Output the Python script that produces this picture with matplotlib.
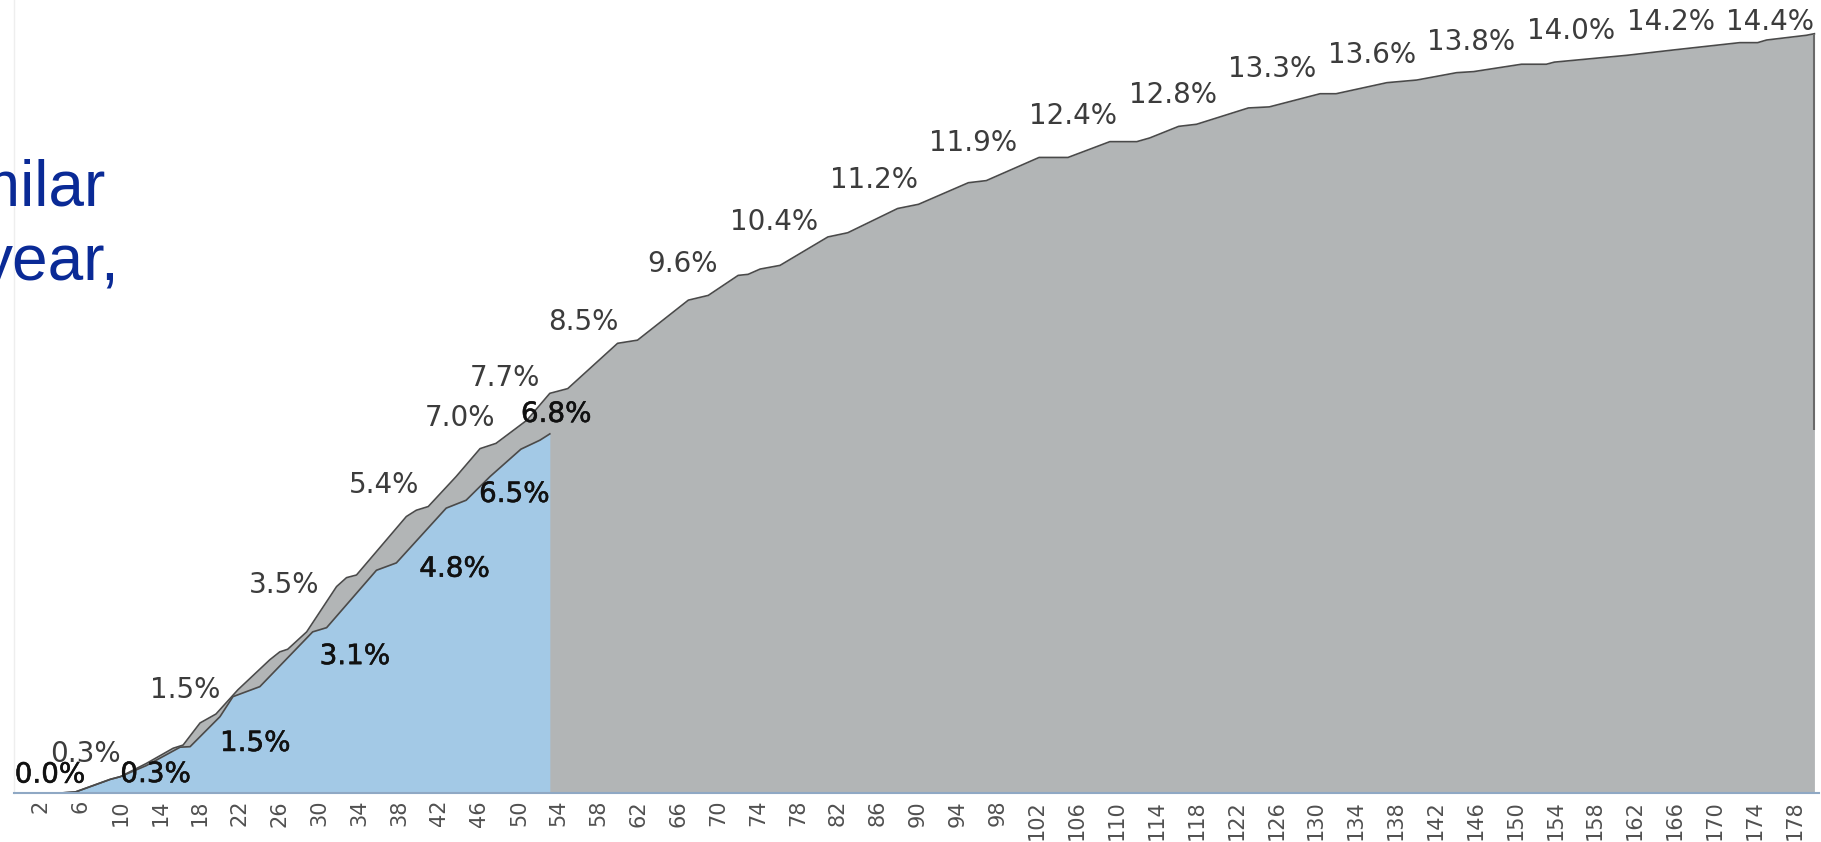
import matplotlib.pyplot as plt
import matplotlib.patheffects as pe

# прошлый год (серая область) - значения в %
gray_x = [0, 4, 5.5, 9, 10, 12.6, 15.3, 16.3, 18, 19.6, 21.8, 25, 26, 26.8, 28.7,
          31.7, 32.7, 33.7, 38.7, 39.7, 40.9, 43.7, 46.1, 47.7, 50.8, 53.1, 54.9,
          59.9, 61.9, 67, 69, 72, 73, 74.2, 76.2, 81, 83, 88, 90.1, 95.1, 96.9,
          102.2, 105.1, 109.3, 112, 113.3, 116.2, 118, 123.2, 125.3, 130.4, 132,
          137.1, 140.1, 144.1, 145.8, 150.6, 153.1, 153.9, 161.2, 165.8, 172.5,
          174.3, 175.2, 179.2, 180]
gray_y = [0, 0, 0.02, 0.26, 0.31, 0.56, 0.85, 0.91, 1.33, 1.5, 1.96, 2.53, 2.68, 2.73, 3.06,
          3.92, 4.09, 4.14, 5.25, 5.37, 5.44, 6.01, 6.54, 6.64, 7.08, 7.59, 7.68,
          8.54, 8.6, 9.36, 9.45, 9.83, 9.85, 9.95, 10.02, 10.56, 10.64, 11.1, 11.18, 11.59, 11.63,
          12.07, 12.07, 12.37, 12.37, 12.44, 12.66, 12.7, 13.01, 13.03, 13.28, 13.28,
          13.49, 13.54, 13.68, 13.7, 13.84, 13.84, 13.88, 14.01, 14.11, 14.25,
          14.25, 14.3, 14.39, 14.42]

# текущий год (голубая область)
blue_x = [0, 4, 5.5, 9, 10, 12.6, 16, 17, 20, 21.3, 24, 29.3, 30.7, 35.7, 37.7,
          42.7, 44.7, 47.1, 50.2, 52.1, 53.1]
blue_y = [0, 0, 0.02, 0.26, 0.31, 0.52, 0.87, 0.88, 1.45, 1.83, 2.02, 3.06, 3.14, 4.23, 4.37,
          5.41, 5.56, 6.01, 6.53, 6.7, 6.82]

# подписи
gray_lbl_x = [10, 20, 30, 40, 50, 54, 60, 70, 80, 90, 100, 110, 120, 130, 140, 150, 160, 170, 180]
gray_lbl = [0.3, 1.5, 3.5, 5.4, 7.0, 7.7, 8.5, 9.6, 10.4, 11.2, 11.9, 12.4, 12.8, 13.3,
            13.6, 13.8, 14.0, 14.2, 14.4]
blue_lbl_x = [0, 10, 20, 30, 40, 50, 53]
blue_lbl = [0.0, 0.3, 1.5, 3.1, 4.8, 6.5, 6.8]

ticks = list(range(2, 179, 4))

# смещения подписей (раскладка)
gray_dx = [0, 0, 0, 0, -2.4, -1.9, 0, 0, 0, 0, 0, 0, 0, 0, 0, 0, 0, 0, 0]
gray_dy = [0.45, 0.45, 0.45, 0.45, 0.12, 0.19, 0.45, 0.45, 0.45, 0.45, 0.45, 0.45, 0.45,
           0.45, 0.42, 0.47, 0.48, 0.44, 0.24]
blue_dx = [-0.6, 0, 0, 0, 0, -4.0, -2.8]
blue_dy = [0.35, 0.06, -0.55, -0.5, -0.54, -0.82, 0.4]

W, H = 1821, 842
fig = plt.figure(figsize=(W / 100, H / 100), dpi=100)
ax = fig.add_axes([14 / W, 49 / H, 1805 / W, 793 / H])

ax.fill_between(gray_x, gray_y, 0, color='#b2b5b6', lw=0)
ax.plot(gray_x, gray_y, color='#4a4a4a', lw=1.2)
ax.vlines(gray_x[-1], 6.9, gray_y[-1], color='#6a6a6a', lw=1.5)
ax.fill_between(blue_x, blue_y, 0, color='#a3c9e6', lw=0)
ax.plot(blue_x, blue_y, color='#4a4a4a', lw=1.2)

for x, v, dx, dy in zip(gray_lbl_x, gray_lbl, gray_dx, gray_dy):
    ax.text(x + dx, v + dy, f'{v:.1f}%', ha='right', va='center',
            fontsize=20, color='#3c3c3c')

for x, v, dx, dy in zip(blue_lbl_x, blue_lbl, blue_dx, blue_dy):
    ax.text(x + dx, v + dy, f'{v:.1f}%', ha='left', va='center', fontsize=20,
            color='#111111',
            path_effects=[pe.withStroke(linewidth=0.4, foreground='#111111')])

ax.set_xlim(-0.67, 180.46)
ax.set_ylim(0, 15.06)
ax.set_xticks(ticks)
ax.set_xticklabels([str(t) for t in ticks], rotation=90, fontsize=15, color='#505050')
ax.tick_params(axis='x', length=0, pad=5)
ax.set_yticks([])
for s in ['top', 'right']:
    ax.spines[s].set_visible(False)
ax.spines['bottom'].set_color('#8fa8c4')
ax.spines['bottom'].set_linewidth(1.5)
ax.spines['left'].set_color('#eeeeee')
ax.spines['left'].set_linewidth(1)

# обрезанный текст слева (часть слайда)
fig.text(105 / W, 1 - 205 / H, 'similar', ha='right', va='baseline',
         fontsize=46, family='Liberation Sans', color='#0a2a96')
fig.text(120 / W, 1 - 280 / H, 'year,', ha='right', va='baseline',
         fontsize=46, family='Liberation Sans', color='#0a2a96')

plt.savefig('out.png', dpi=100)
